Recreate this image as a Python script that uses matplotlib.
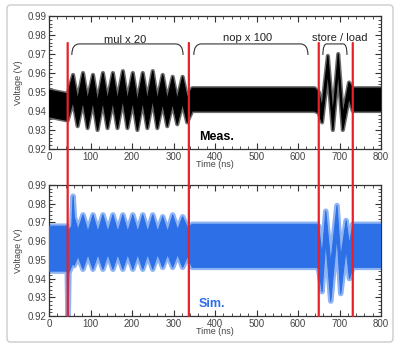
import matplotlib
matplotlib.use("Agg")
import matplotlib.pyplot as plt
from matplotlib.ticker import MultipleLocator
from matplotlib.patches import ConnectionPatch, FancyBboxPatch
from matplotlib.path import Path
from matplotlib.patches import PathPatch

plt.rcParams['font.family'] = ['Liberation Sans', 'DejaVu Sans']

meas_t = [0, 45, 58, 69, 82, 93, 106, 117, 130, 141, 154, 165, 178, 189, 202, 213,
          226, 237, 250, 261, 274, 285, 298, 309, 322, 333, 345, 640, 650, 658,
          672, 684, 697, 708, 723, 732, 800]
meas_hi = [0.951, 0.949, 0.959, 0.946, 0.960, 0.946, 0.959, 0.945, 0.960, 0.946, 0.960, 0.946,
           0.961, 0.946, 0.960, 0.945, 0.960, 0.946, 0.961, 0.946, 0.959, 0.946, 0.958, 0.946,
           0.958, 0.947, 0.952, 0.952, 0.950, 0.942, 0.969, 0.938, 0.970, 0.938, 0.955,
           0.952, 0.952]
meas_lo = [0.937, 0.935, 0.945, 0.932, 0.945, 0.931, 0.945, 0.930, 0.945, 0.931, 0.945, 0.931,
           0.946, 0.931, 0.945, 0.930, 0.945, 0.931, 0.946, 0.931, 0.944, 0.932, 0.944, 0.933,
           0.944, 0.934, 0.940, 0.940, 0.939, 0.934, 0.960, 0.930, 0.961, 0.930, 0.947,
           0.940, 0.940]

# simulated supply voltage
sim_t = [0, 44, 46, 48, 55, 58, 61, 70, 82, 94, 106, 118, 130, 142, 154, 166, 178, 190,
         202, 214, 226, 238, 250, 262, 274, 286, 298, 310, 322, 334, 345, 645, 650, 658,
         667, 679, 694, 703, 716, 724, 732, 800]
sim_hi = [0.968, 0.968, 0.952, 0.966, 0.968, 0.984, 0.973, 0.966, 0.974, 0.965, 0.974, 0.965,
          0.974, 0.965, 0.974, 0.965, 0.974, 0.965, 0.974, 0.965, 0.974, 0.965, 0.974, 0.965,
          0.973, 0.965, 0.974, 0.966, 0.973, 0.967, 0.969, 0.969, 0.968, 0.952, 0.976,
          0.948, 0.979, 0.951, 0.971, 0.958, 0.969, 0.969]
sim_lo = [0.944, 0.944, 0.917, 0.943, 0.947, 0.948, 0.947, 0.952, 0.945, 0.953, 0.945, 0.953,
          0.945, 0.953, 0.945, 0.953, 0.945, 0.953, 0.945, 0.953, 0.945, 0.953, 0.945, 0.953,
          0.946, 0.953, 0.946, 0.953, 0.946, 0.952, 0.946, 0.946, 0.945, 0.933, 0.960,
          0.928, 0.963, 0.932, 0.956, 0.940, 0.946, 0.946]

# red markers between program phases (ns)
phase_t = [45, 337, 650, 732]

# braces over the top panel
brace_x0 = [55, 349, 660]
brace_x1 = [323, 624, 718]
brace_dx = [18, 18, 9]
brace_txt = ['mul x 20', 'nop x 100', 'store / load']
brace_txt_x = [183, 478, 700]
brace_txt_y = [0.9756, 0.9766, 0.9768]

W, H = 394, 347
fig = plt.figure(figsize=(W / 100, H / 100), dpi=100)
ax1 = fig.add_axes([49 / W, 1 - 149 / H, 332 / W, 133 / H])
ax2 = fig.add_axes([49 / W, 1 - 316 / H, 332 / W, 131 / H])


def band(ax, t, hi, lo, face, fringe, fringe_lw):
    xs = list(t) + list(t[::-1])
    ys = list(hi) + list(lo[::-1])
    # wide light stroke first gives the fuzzy edge, solid core on top
    ax.fill(xs, ys, facecolor=fringe, edgecolor=fringe, linewidth=fringe_lw,
            joinstyle='round', zorder=2)
    ax.fill(xs, ys, facecolor=face, edgecolor=face, linewidth=0.8,
            joinstyle='round', zorder=3)


band(ax1, meas_t, meas_hi, meas_lo, 'black', '#6b6b6b', 3)
band(ax2, sim_t, sim_hi, sim_lo, '#2c6fe6', '#8fb4f3', 4)

for ax in (ax1, ax2):
    ax.set_xlim(0, 800)
    ax.set_ylim(0.92, 0.99)
    ax.xaxis.set_major_locator(MultipleLocator(100))
    ax.xaxis.set_minor_locator(MultipleLocator(20))
    ax.yaxis.set_minor_locator(MultipleLocator(0.002))
    ax.tick_params(which='both', direction='in', top=True, right=True,
                   labelsize=7, pad=2, colors='#333333', labelcolor='#444444')
    ax.tick_params(which='major', length=4, width=0.8)
    ax.tick_params(which='minor', length=2, width=0.6)
    ax.set_yticks([0.92, 0.93, 0.94, 0.95, 0.96, 0.97, 0.98, 0.99])
    ax.set_yticklabels(['0.92', '0.93', '0.94', '0.95', '0.96', '0.97', '0.98', '0.99'])
    ax.set_xlabel('Time (ns)', fontsize=6.5, labelpad=-1, color='#444444')
    ax.set_ylabel('Voltage (V)', fontsize=6.5, labelpad=3, color='#444444')
    for s in ax.spines.values():
        s.set_color('#333333')
        s.set_linewidth(0.9)

# braces and their labels
for x0, x1, dx, txt, tx, ty in zip(brace_x0, brace_x1, brace_dx, brace_txt, brace_txt_x, brace_txt_y):
    ytop, ylow = 0.9753, 0.9695
    verts = [(x0, ylow), (x0, ytop), (x0 + dx, ytop), (x1 - dx, ytop), (x1, ytop), (x1, ylow)]
    codes = [Path.MOVETO, Path.CURVE3, Path.CURVE3, Path.LINETO, Path.CURVE3, Path.CURVE3]
    ax1.add_patch(PathPatch(Path(verts, codes), facecolor='none', edgecolor='#333333', lw=0.8))
    ax1.text(tx, ty, txt, fontsize=8, ha='center', va='baseline', color='#222222')

ax1.text(361, 0.9247, 'Meas.', fontsize=9, fontweight='bold', color='black')
ax2.text(361, 0.9248, 'Sim.', fontsize=9, fontweight='bold', color='#2c6fe6')

# red lines running through both panels
for t in phase_t:
    con = ConnectionPatch(xyA=(t, 0.9758), coordsA=ax1.transData,
                          xyB=(t, 0.92), coordsB=ax2.transData,
                          color='#e8202a', lw=1.6, zorder=10)
    fig.add_artist(con)

# light frame round the whole figure
frame = FancyBboxPatch((7 / W, 5 / H), 386 / W, 337 / H, boxstyle='round,pad=0,rounding_size=0.01',
                       transform=fig.transFigure, facecolor='none', edgecolor='#cccccc', lw=1)
fig.add_artist(frame)

fig.savefig('out.png', dpi=100)
